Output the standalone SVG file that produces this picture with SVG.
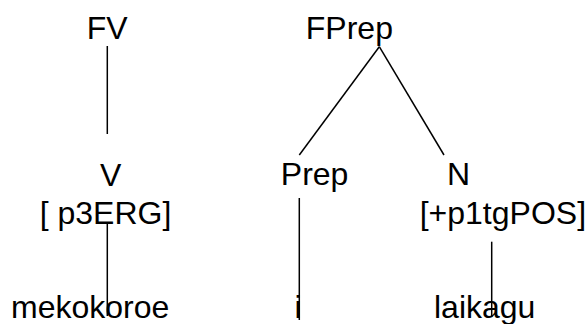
<svg xmlns="http://www.w3.org/2000/svg" width="587" height="324" viewBox="0 0 587 324">
<style>
text{font-family:"Liberation Sans",Arial,sans-serif;font-size:32px;fill:#000}
line{stroke:#000;stroke-width:1.5}
</style>
<rect width="587" height="324" fill="#fff"/>
<g id="connectors">
<line x1="107.3" y1="46" x2="107.3" y2="134"/>
<line x1="379.3" y1="46.7" x2="299.3" y2="155"/>
<line x1="379.3" y1="46.7" x2="444" y2="155"/>
<line x1="107.3" y1="222" x2="107.3" y2="316"/>
<line x1="299.3" y1="198" x2="299.3" y2="320"/>
<line x1="491.7" y1="241.7" x2="491.7" y2="317"/>
</g>
<g id="node-FV"><text x="86.8" y="39">FV</text></g>
<g id="node-FPrep"><text x="305.8" y="39">FPrep</text></g>
<g id="node-V"><text x="100" y="186">V</text><text x="39.7" y="224">[ p3ERG]</text></g>
<g id="node-Prep"><text x="280.8" y="185">Prep</text></g>
<g id="node-N"><text x="447" y="185">N</text><text x="419.7" y="224">[+p1tgPOS]</text></g>
<g id="node-mekokoroe"><text x="11" y="318">mekokoroe</text></g>
<g id="node-i"><text x="294.5" y="318">i</text></g>
<g id="node-laikagu"><text x="434" y="318">laikagu</text></g>
</svg>
